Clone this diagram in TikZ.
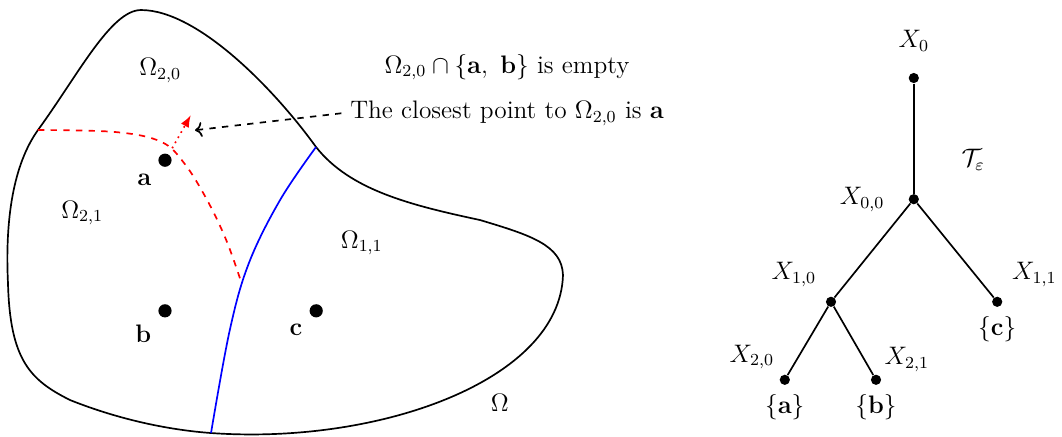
\documentclass[tikz,border=0pt,12pt]{standalone}
\usepackage{amsmath,amssymb}
\usetikzlibrary{arrows.meta,positioning}
\tikzset{
  pt/.style={circle,fill=black,inner sep=0pt,minimum size=2.2mm},
  leaf/.style={circle,fill=black,inner sep=0pt,minimum size=1.7mm},
  region/.style={font=\normalsize},
  edge/.style={thick,draw=black},
  cut/.style={thick,draw=#1},
  cut/.default=blue,
}
\begin{document}
\begin{tikzpicture}
    \useasboundingbox (0,0) rectangle (17.7,-7.283);
    % the domain Omega
    \draw[thick] (3.517,-7.217) .. controls (6.333,-7.417) and (9.333,-6.333) .. (9.383,-4.583)
      .. controls (9.367,-4.083) and (8.833,-3.917) .. (8.0,-3.667)
      .. controls (6.833,-3.417) and (5.833,-3.167) .. (5.267,-2.45)
      .. controls (4.583,-1.5) and (3.3,-0.167) .. (2.35,-0.167)
      .. controls (1.85,-0.167) and (1.3,-1.25) .. (0.633,-2.167)
      .. controls (0.217,-2.75) and (0.083,-3.667) .. (0.133,-4.717)
      .. controls (0.167,-6.0) and (0.5,-6.333) .. (1.167,-6.667)
      .. controls (2.0,-7.0) and (2.833,-7.167) .. cycle;
    % partition lines
    \draw[cut=blue] plot[smooth,tension=0.6] coordinates {
      (5.267,-2.45) (4.67,-3.33) (4.15,-4.38) (3.83,-5.50) (3.517,-7.217)};
    \draw[cut=red,dashed] plot[smooth,tension=0.6] coordinates {
      (0.633,-2.167) (1.92,-2.20) (2.68,-2.36) (3.07,-2.72) (3.45,-3.33)
      (3.77,-4.00) (4.02,-4.70)};
    % points
    \node[pt,label={[label distance=0mm]below left:$\mathbf{a}$}] (a) at (2.75,-2.67) {};
    \node[pt,label={[label distance=0mm]below left:$\mathbf{b}$}] (b) at (2.75,-5.18) {};
    \node[pt,label={[label distance=0mm]below left:$\mathbf{c}$}] (c) at (5.27,-5.18) {};
    % regions
    \node[region] (o20) at (2.67,-1.17) {$\Omega_{2,0}$};
    \node[region] (o21) at (1.37,-3.55) {$\Omega_{2,1}$};
    \node[region] (o11) at (6.03,-4.05) {$\Omega_{1,1}$};
    \node[region] (om) at (8.33,-6.72) {$\Omega$};
    % remark
    \node (empty) at (8.45,-1.12) {$\Omega_{2,0}\cap\{\mathbf{a},\ \mathbf{b}\}$ is empty};
    \node[below=0.05cm of empty] (closest) {The closest point to $\Omega_{2,0}$ is $\mathbf{a}$};
    \coordinate (near) at (3.25,-2.17);
    \coordinate (foot) at (2.87,-2.47);
    \coordinate (tip) at (3.18,-1.92);
    \draw[thick,dashed,->] (closest.west) -- (near);
    \draw[thick,red,dotted,-{Latex[length=2mm]}] (foot) -- (tip);
    % the tree
    \node[leaf,label={[label distance=2mm]above:$X_0$}] (x0) at (15.23,-1.30) {};
    \node[leaf,label={[label distance=2.5mm]left:$X_{0,0}$}] (x00) at (15.23,-3.32) {};
    \node[leaf,label={[label distance=0.5mm]above left:$X_{1,0}$}] (x10) at (13.85,-5.03) {};
    \node[leaf,label={[label distance=0.5mm]above right:$X_{1,1}$},
      label={[label distance=0mm]below:$\{\mathbf{c}\}$}] (x11) at (16.62,-5.03) {};
    \node[leaf,label={[label distance=-0.5mm]above left:$X_{2,0}$},
      label={[label distance=0mm]below:$\{\mathbf{a}\}$}] (x20) at (13.08,-6.33) {};
    \node[leaf,label={[label distance=-1mm]above right:$X_{2,1}$},
      label={[label distance=0mm]below:$\{\mathbf{b}\}$}] (x21) at (14.60,-6.33) {};
    \node (tree) at (16.22,-2.67) {$\mathcal{T}_\varepsilon$};
    \foreach \u/\v in {x0/x00,x00/x10,x00/x11,x10/x20,x10/x21}
      \draw[edge] (\u) -- (\v);
\end{tikzpicture}
\end{document}
